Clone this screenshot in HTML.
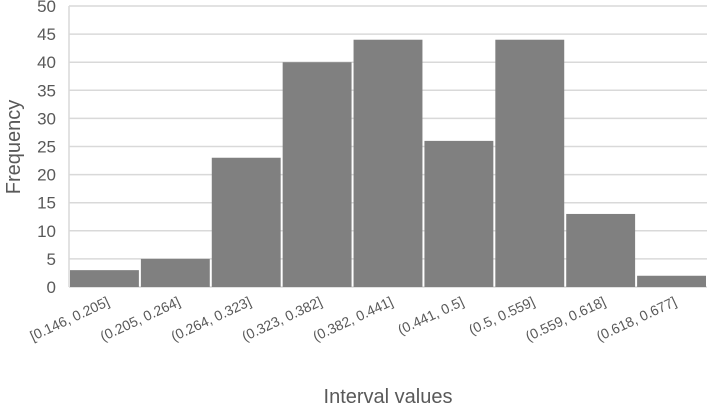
<!DOCTYPE html>
<html><head><meta charset="utf-8"><style>
body{margin:0;background:#fff;}
svg{display:block;font-family:"Liberation Sans",sans-serif;}
</style></head><body>
<svg id="chart" width="710" height="410"></svg>
<script>
const categories=["[0.146, 0.205]","(0.205, 0.264]","(0.264, 0.323]","(0.323, 0.382]","(0.382, 0.441]","(0.441, 0.5]","(0.5, 0.559]","(0.559, 0.618]","(0.618, 0.677]"];
const frequencies=[3,5,23,40,44,26,44,13,2];
const yTicks=[0,5,10,15,20,25,30,35,40,45,50];
const NS="http://www.w3.org/2000/svg";
const svg=document.getElementById('chart');
const L=69,R=707,T=6,B=287,yMax=50;
const y=v=>B-(v/yMax)*(B-T);
const bw=(R-L)/categories.length;
const x=i=>L+i*bw;
function mk(tag,attrs,txt){const e=document.createElementNS(NS,tag);for(const k in attrs)e.setAttribute(k,attrs[k]);if(txt!==undefined)e.textContent=txt;svg.appendChild(e);return e;}
yTicks.forEach(t=>{
  const g=mk('line',{x1:L,x2:R,y1:y(t),y2:y(t),stroke:'#d9d9d9','stroke-width':1.5});
  
  
  const tl=mk('text',{x:L-13,y:y(t)+6,'text-anchor':'end','font-size':17,fill:'#595959'},t);
  
  
});
const ax=mk('line',{x1:L,x2:L,y1:T,y2:B,stroke:'#d9d9d9','stroke-width':1.5});


frequencies.forEach((v,i)=>{
  const r=mk('rect',{x:x(i)+1,y:y(v),width:bw-2,height:B-y(v),fill:'#808080'});
  
  
  const cx=x(i)+bw/2+6;
  const t=mk('text',{x:cx,y:B+18,'text-anchor':'end','font-size':14,fill:'#595959',transform:`rotate(-25 ${cx} ${B+18})`},categories[i]);
  
  
});
const xt=mk('text',{x:388,y:403,'text-anchor':'middle','font-size':20,fill:'#595959'},'Interval values');


const yt=mk('text',{x:20,y:147,'text-anchor':'middle','font-size':20,fill:'#595959',transform:'rotate(-90 20 147)'},'Frequency');


</script>
</body></html>
